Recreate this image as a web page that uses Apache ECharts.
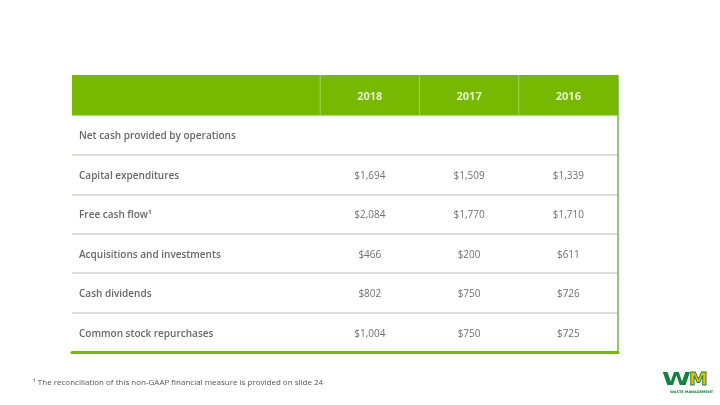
<!DOCTYPE html>
<html>
<head>
<meta charset="utf-8">
<script src="https://cdn.jsdelivr.net/npm/echarts@6/dist/echarts.min.js"></script>
<style>
html, body { margin: 0; padding: 0; background: #fff; }
#main { width: 720px; height: 405px; }
</style>
</head>
<body>
<div id="main"></div>
<script>
/* table data */
var years = ['2018', '2017', '2016'];
var rowNames = ['Net cash provided by operations', 'Capital expenditures', 'Free cash flow\u00b9',
	'Acquisitions and investments', 'Cash dividends', 'Common stock repurchases'];
var v2018 = [null, 1694, 2084, 466, 802, 1004];
var v2017 = [null, 1509, 1770, 200, 750, 750];
var v2016 = [null, 1339, 1710, 611, 726, 725];
var footnote = '\u00b9 The reconciliation of this non-GAAP financial measure is provided on slide 24';

var HDR = 'hdr';
var rows = [HDR].concat(rowNames);
var colEdges = [0, 2.5, 3.5, 4.5, 5.5]; // label column is 2.5 units, value columns 1 unit
var colCenters = [3, 4, 5];
var green = '#77b800';
var font = 'Open Sans';

function money(v) {
	return '$' + String(v).replace(/\B(?=(\d{3})+(?!\d))/g, ',');
}

/* one scatter series per year column */
function valueSeries(vals, col) {
	var out = [];
	vals.forEach(function (v, i) {
		if (v != null) out.push([colCenters[col], rowNames[i], v]);
	});
	return out;
}

var headerCells = [];
for (var i = 0; i < colEdges.length - 1; i++) {
	headerCells.push([colEdges[i], colEdges[i + 1], i]);
}

var valueLabel = {
	show: true, position: 'inside', offset: [0, 1.5],
	fontFamily: font, fontSize: 10, color: '#4a4a4a',
	formatter: function (p) { return money(p.value[2]); }
};

var myChart = echarts.init(document.getElementById('main'));
var option = {
	animation: false,
	backgroundColor: '#fff',
	grid: { left: 72, right: 102, top: 76, bottom: 53 },
	xAxis: {
		type: 'value', min: 0, max: 5.5,
		axisLine: { show: true, onZero: false, lineStyle: { color: green, width: 3 } },
		axisTick: { show: false }, axisLabel: { show: false }, splitLine: { show: false }
	},
	yAxis: [{
		type: 'category', data: rows, inverse: true,
		axisLine: { show: false }, axisTick: { show: false }, axisLabel: { show: false },
		splitLine: {
			show: true,
			lineStyle: { width: 1.5, color: ['rgba(0,0,0,0)', '#eef3e8', '#d2d2cb', '#d2d2cb', '#d2d2cb', '#d2d2cb', '#d2d2cb', green] }
		}
	}, {
		type: 'category', data: rows, inverse: true, position: 'right',
		axisLine: { show: true, lineStyle: { color: '#92c67a', width: 2 } },
		axisTick: { show: false }, axisLabel: { show: false }, splitLine: { show: false }
	}],
	series: [{
		/* header cells */
		type: 'custom', z: 3,
		data: headerCells,
		renderItem: function (params, api) {
			var p0 = api.coord([api.value(0), HDR]);
			var p1 = api.coord([api.value(1), HDR]);
			var h = api.size([0, 1])[1];
			var children = [{
				type: 'rect',
				shape: { x: p0[0], y: p0[1] - h / 2 - 1, width: p1[0] - p0[0], height: h + 1 },
				style: { fill: green }
			}];
			if (api.value(2) > 0) {
				children.push({
					type: 'line',
					shape: { x1: p0[0], y1: p0[1] - h / 2 - 1, x2: p0[0], y2: p0[1] + h / 2 },
					style: { stroke: '#9fd04a', lineWidth: 1 }
				});
			}
			return { type: 'group', children: children };
		}
	}, {
		/* header year labels */
		type: 'scatter', z: 4, symbolSize: 0,
		data: years.map(function (y, i) { return [colCenters[i], HDR, y]; }),
		label: {
			show: true, position: 'inside', offset: [0, 1.5],
			fontFamily: font, fontSize: 11, fontWeight: 'bold', color: '#fff',
			formatter: function (p) { return p.value[2]; }
		}
	}, {
		/* row labels */
		type: 'scatter', symbolSize: 0,
		data: rowNames.map(function (n) { return [0, n]; }),
		label: {
			show: true, position: 'right', distance: 7, offset: [0, 1.5],
			fontFamily: font, fontSize: 10, fontWeight: 600, color: '#404040',
			formatter: function (p) { return p.value[1]; }
		}
	}, {
		type: 'scatter', symbolSize: 0, data: valueSeries(v2018, 0), label: valueLabel
	}, {
		type: 'scatter', symbolSize: 0, data: valueSeries(v2017, 1), label: valueLabel
	}, {
		type: 'scatter', symbolSize: 0, data: valueSeries(v2016, 2), label: valueLabel
	}],
	graphic: [{
		type: 'text', left: 33, top: 379,
		style: { text: footnote, fontFamily: font, fontSize: 8, fill: '#555' }
	}, {
		/* WM logo */
		type: 'group', left: 662, top: 371,
		children: [{
			type: 'text', x: 0, y: 0, scaleX: 1.45,
			style: { text: 'W', fontFamily: 'DejaVu Sans', fontWeight: 'bold', fontSize: 18, fill: '#13803c' }
		}, {
			type: 'text', x: 27, y: 0, scaleX: 1.05,
			style: { text: 'M', fontFamily: 'DejaVu Sans', fontWeight: 'bold', fontSize: 18, fill: '#f2b700' }
		}, {
			type: 'text', x: 27, y: 0, scaleX: 1.05,
			style: { text: 'M', fontFamily: 'DejaVu Sans', fontWeight: 'bold', fontSize: 18, fill: 'rgba(0,0,0,0)', stroke: '#13803c', lineWidth: 0.8 }
		}, {
			type: 'text', x: 8, y: 19,
			style: { text: 'WASTE MANAGEMENT', fontFamily: 'DejaVu Sans', fontWeight: 'bold', fontSize: 3.5, fill: '#13803c' }
		}]
	}]
};
myChart.setOption(option);
</script>
</body>
</html>
